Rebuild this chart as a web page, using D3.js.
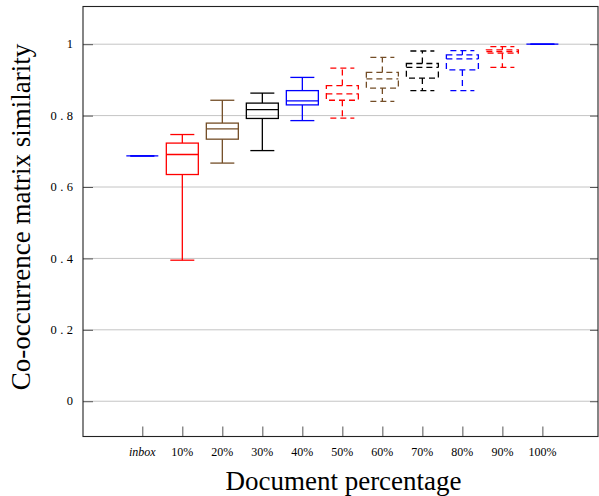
<!DOCTYPE html>
<html>
<head>
<meta charset="utf-8">
<script src="https://cdn.jsdelivr.net/npm/d3@7"></script>
<style>
  html, body { margin: 0; padding: 0; background: #fff; }
  svg { display: block; }
  text { font-family: "Liberation Serif", "Times New Roman", serif; fill: #000; }
</style>
</head>
<body>
<svg id="chart" width="599" height="496"></svg>
<script>
// Box statistics per document percentage
const categories = ["inbox", "10%", "20%", "30%", "40%", "50%", "60%", "70%", "80%", "90%", "100%"];
const lowerWhisker = [0.687, 0.395, 0.667, 0.702, 0.786, 0.793, 0.840, 0.870, 0.870, 0.935, 1.000];
const lowerQuartile = [0.687, 0.635, 0.734, 0.792, 0.830, 0.843, 0.877, 0.905, 0.928, 0.975, 1.000];
const medians = [0.687, 0.691, 0.763, 0.817, 0.841, 0.861, 0.903, 0.935, 0.959, 0.979, 1.000];
const upperQuartile = [0.687, 0.723, 0.779, 0.835, 0.870, 0.884, 0.921, 0.946, 0.970, 0.984, 1.000];
const upperWhisker = [0.687, 0.747, 0.843, 0.863, 0.907, 0.933, 0.963, 0.981, 0.982, 0.993, 1.000];
const boxColors = ["#0000ff", "#ff0000", "#734d26", "#000000", "#0000ff", "#ff0000", "#734d26", "#000000", "#0000ff", "#ff0000", "#0000ff"];
const boxDashed = [false, false, false, false, false, true, true, true, true, true, false];
const yTicks = [0, 0.2, 0.4, 0.6, 0.8, 1];

const plotLeft = 83, plotRight = 598, plotTop = 6.5, plotBottom = 436.5;
const svg = d3.select("#chart");

const x = d3.scaleLinear().domain([-1.4825, 11.39]).range([plotLeft, plotRight]);
const y = d3.scaleLinear().domain([-0.0988, 1.1056]).range([plotBottom, plotTop]);

// horizontal grid
svg.append("g").selectAll("line").data(yTicks).join("line")
  .attr("x1", plotLeft).attr("x2", plotRight)
  .attr("y1", d => y(d)).attr("y2", d => y(d))
  .attr("stroke", "#c4c4c4").attr("stroke-width", 1);

// left axis with inward ticks
const yAxisL = svg.append("g").attr("transform", `translate(${plotLeft},0)`)
  .call(d3.axisRight(y).tickValues(yTicks).tickSize(10).tickFormat(""));
yAxisL.select(".domain").remove();
yAxisL.selectAll("line").attr("stroke", "#555").attr("stroke-width", 1);

// right axis with inward ticks
const yAxisR = svg.append("g").attr("transform", `translate(${plotRight},0)`)
  .call(d3.axisLeft(y).tickValues(yTicks).tickSize(8).tickFormat(""));
yAxisR.select(".domain").remove();
yAxisR.selectAll("line").attr("stroke", "#555").attr("stroke-width", 1);

// y tick labels
svg.append("g").selectAll("text").data(yTicks).join("text")
  .attr("x", 73).attr("y", d => y(d)).attr("dy", "0.33em")
  .attr("text-anchor", "end")
  .style("font-size", "12.5px").style("letter-spacing", "3.4px")
  .attr("dx", "3.4px")
  .text(d => d3.format("~g")(d));

// bottom axis with inward ticks
const idx = categories.map((c, i) => i);
const xAxis = svg.append("g").attr("transform", `translate(0,${plotBottom})`)
  .call(d3.axisTop(x).tickValues(idx).tickSize(10).tickFormat(""));
xAxis.select(".domain").remove();
xAxis.selectAll("line").attr("stroke", "#555").attr("stroke-width", 1);

svg.append("g").selectAll("text").data(categories).join("text")
  .attr("x", (d, i) => x(i)).attr("y", 456)
  .attr("text-anchor", "middle")
  .style("font-size", "12px")
  .style("font-style", (d, i) => i === 0 ? "italic" : "normal")
  .text(d => d);

// axis frame
svg.append("rect")
  .attr("x", plotLeft).attr("y", plotTop).attr("width", plotRight - plotLeft).attr("height", plotBottom - plotTop)
  .attr("fill", "none").attr("stroke", "#222").attr("stroke-width", 1.1);

// boxes
const half = 16, cap = 12;
const boxes = svg.append("g").selectAll("g").data(categories).join("g")
  .attr("fill", "none")
  .attr("stroke", (d, i) => boxColors[i])
  .attr("stroke-width", 1.3)
  .attr("stroke-dasharray", (d, i) => boxDashed[i] ? "6,4" : null);

boxes.each(function(d, i) {
  const g = d3.select(this);
  const cx = x(i);
  // upper whisker and cap
  g.append("line").attr("x1", cx).attr("x2", cx).attr("y1", y(upperQuartile[i])).attr("y2", y(upperWhisker[i]));
  g.append("line").attr("x1", cx - cap).attr("x2", cx + cap).attr("y1", y(upperWhisker[i])).attr("y2", y(upperWhisker[i]));
  // lower whisker and cap
  g.append("line").attr("x1", cx).attr("x2", cx).attr("y1", y(lowerQuartile[i])).attr("y2", y(lowerWhisker[i]));
  g.append("line").attr("x1", cx - cap).attr("x2", cx + cap).attr("y1", y(lowerWhisker[i])).attr("y2", y(lowerWhisker[i]));
  // box
  g.append("rect").attr("x", cx - half).attr("width", 2 * half)
    .attr("y", y(upperQuartile[i])).attr("height", y(lowerQuartile[i]) - y(upperQuartile[i]));
  // median
  g.append("line").attr("x1", cx - half).attr("x2", cx + half).attr("y1", y(medians[i])).attr("y2", y(medians[i]));
});

// axis titles
svg.append("text")
  .attr("x", (plotLeft + plotRight) / 2 + 3).attr("y", 490)
  .attr("text-anchor", "middle")
  .style("font-size", "27px")
  .text("Document percentage");

svg.append("text")
  .attr("transform", `translate(30,${217}) rotate(-90)`)
  .attr("text-anchor", "middle")
  .style("font-size", "27px")
  .text("Co-occurrence matrix similarity");
</script>
</body>
</html>
